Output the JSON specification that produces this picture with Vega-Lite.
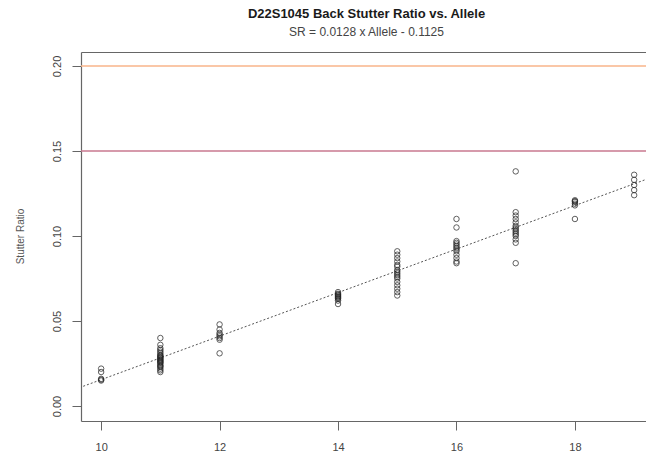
{
  "$schema": "https://vega.github.io/schema/vega-lite/v6.json",
  "width": 565,
  "height": 369,
  "autosize": {"type": "none"},
  "padding": {"left": 81, "top": 52, "right": 0, "bottom": 36},
  "background": "white",
  "title": {
    "text": "D22S1045 Back Stutter Ratio vs. Allele",
    "subtitle": "SR = 0.0128 x Allele - 0.1125",
    "anchor": "middle",
    "font": "Liberation Sans",
    "fontSize": 13,
    "fontWeight": "bold",
    "color": "#1a1a1a",
    "subtitleFont": "Liberation Sans",
    "subtitleFontSize": 12,
    "subtitleColor": "#444444",
    "subtitlePadding": 6,
    "offset": 14,
    "dx": 3
  },
  "config": {
    "view": {"stroke": null},
    "axis": {
      "grid": false,
      "domainColor": "#666666",
      "domainWidth": 1.2,
      "tickColor": "#666666",
      "labelFont": "Liberation Sans",
      "titleFont": "Liberation Sans",
      "labelColor": "#444444",
      "titleColor": "#555555"
    }
  },
  "datasets": {
    "pts": [
      {"allele": 10, "sr": 0.022}, {"allele": 10, "sr": 0.020}, {"allele": 10, "sr": 0.016}, {"allele": 10, "sr": 0.015}, {"allele": 10, "sr": 0.0155},
      {"allele": 11, "sr": 0.040}, {"allele": 11, "sr": 0.036}, {"allele": 11, "sr": 0.034}, {"allele": 11, "sr": 0.033}, {"allele": 11, "sr": 0.032},
      {"allele": 11, "sr": 0.031}, {"allele": 11, "sr": 0.030}, {"allele": 11, "sr": 0.0295}, {"allele": 11, "sr": 0.029}, {"allele": 11, "sr": 0.0285},
      {"allele": 11, "sr": 0.028}, {"allele": 11, "sr": 0.0275}, {"allele": 11, "sr": 0.027}, {"allele": 11, "sr": 0.0265}, {"allele": 11, "sr": 0.026},
      {"allele": 11, "sr": 0.0255}, {"allele": 11, "sr": 0.025}, {"allele": 11, "sr": 0.024}, {"allele": 11, "sr": 0.0235}, {"allele": 11, "sr": 0.023},
      {"allele": 11, "sr": 0.022}, {"allele": 11, "sr": 0.021}, {"allele": 11, "sr": 0.020},
      {"allele": 12, "sr": 0.048}, {"allele": 12, "sr": 0.045}, {"allele": 12, "sr": 0.043}, {"allele": 12, "sr": 0.042}, {"allele": 12, "sr": 0.041},
      {"allele": 12, "sr": 0.040}, {"allele": 12, "sr": 0.039}, {"allele": 12, "sr": 0.031},
      {"allele": 14, "sr": 0.067}, {"allele": 14, "sr": 0.066}, {"allele": 14, "sr": 0.0655}, {"allele": 14, "sr": 0.065}, {"allele": 14, "sr": 0.0645},
      {"allele": 14, "sr": 0.064}, {"allele": 14, "sr": 0.0635}, {"allele": 14, "sr": 0.063}, {"allele": 14, "sr": 0.062}, {"allele": 14, "sr": 0.060},
      {"allele": 15, "sr": 0.091}, {"allele": 15, "sr": 0.089}, {"allele": 15, "sr": 0.087}, {"allele": 15, "sr": 0.085}, {"allele": 15, "sr": 0.083},
      {"allele": 15, "sr": 0.082}, {"allele": 15, "sr": 0.080}, {"allele": 15, "sr": 0.079}, {"allele": 15, "sr": 0.078}, {"allele": 15, "sr": 0.077},
      {"allele": 15, "sr": 0.076}, {"allele": 15, "sr": 0.075}, {"allele": 15, "sr": 0.073}, {"allele": 15, "sr": 0.071}, {"allele": 15, "sr": 0.069},
      {"allele": 15, "sr": 0.067}, {"allele": 15, "sr": 0.065},
      {"allele": 16, "sr": 0.110}, {"allele": 16, "sr": 0.105}, {"allele": 16, "sr": 0.097}, {"allele": 16, "sr": 0.096}, {"allele": 16, "sr": 0.095},
      {"allele": 16, "sr": 0.094}, {"allele": 16, "sr": 0.093}, {"allele": 16, "sr": 0.092}, {"allele": 16, "sr": 0.091}, {"allele": 16, "sr": 0.089},
      {"allele": 16, "sr": 0.087}, {"allele": 16, "sr": 0.085}, {"allele": 16, "sr": 0.084},
      {"allele": 17, "sr": 0.138}, {"allele": 17, "sr": 0.114}, {"allele": 17, "sr": 0.112}, {"allele": 17, "sr": 0.110}, {"allele": 17, "sr": 0.108},
      {"allele": 17, "sr": 0.106}, {"allele": 17, "sr": 0.105}, {"allele": 17, "sr": 0.104}, {"allele": 17, "sr": 0.103}, {"allele": 17, "sr": 0.102},
      {"allele": 17, "sr": 0.101}, {"allele": 17, "sr": 0.100}, {"allele": 17, "sr": 0.098}, {"allele": 17, "sr": 0.096}, {"allele": 17, "sr": 0.084},
      {"allele": 18, "sr": 0.121}, {"allele": 18, "sr": 0.1205}, {"allele": 18, "sr": 0.120}, {"allele": 18, "sr": 0.119}, {"allele": 18, "sr": 0.118},
      {"allele": 18, "sr": 0.110},
      {"allele": 19, "sr": 0.136}, {"allele": 19, "sr": 0.133}, {"allele": 19, "sr": 0.130}, {"allele": 19, "sr": 0.127}, {"allele": 19, "sr": 0.124}
    ],
    "fit": [
      {"allele": 9, "sr": 0.0027},
      {"allele": 20, "sr": 0.1435}
    ],
    "thr": [
      {"level": "0.20", "sr": 0.20},
      {"level": "0.15", "sr": 0.15}
    ]
  },
  "layer": [
    {
      "data": {"name": "thr"},
      "mark": {"type": "rule", "strokeWidth": 1.5},
      "encoding": {
        "y": {"field": "sr", "type": "quantitative", "title": "Stutter Ratio",
              "scale": {"domain": [-0.0088, 0.2082], "nice": false, "zero": false}},
        "color": {"field": "level", "type": "nominal", "legend": null,
                  "scale": {"domain": ["0.20", "0.15"], "range": ["#f8b48a", "#c8788f"]}}
      }
    },
    {
      "data": {"name": "fit"},
      "mark": {"type": "line", "clip": true, "color": "#555555", "strokeWidth": 1, "strokeDash": [2, 2]},
      "encoding": {
        "x": {"field": "allele", "type": "quantitative",
              "scale": {"domain": [9.66, 19.2], "nice": false, "zero": false},
              "axis": {"orient": "top", "labels": false, "ticks": false, "title": null, "domain": true}},
        "y": {"field": "sr", "type": "quantitative", "title": "Stutter Ratio"}
      }
    },
    {
      "data": {"name": "pts"},
      "mark": {"type": "point", "shape": "circle", "filled": false, "size": 30, "stroke": "#222222", "strokeWidth": 0.9, "opacity": 0.8},
      "encoding": {
        "x": {"field": "allele", "type": "quantitative",
              "axis": {"orient": "bottom", "title": null, "values": [10, 12, 14, 16, 18], "format": "d",
                       "tickSize": 9, "labelPadding": 11, "labelFontSize": 11, "labelColor": "#444444"}},
        "y": {"field": "sr", "type": "quantitative", "title": "Stutter Ratio",
              "axis": {"orient": "left", "values": [0, 0.05, 0.1, 0.15, 0.2], "format": ".2f",
                       "tickSize": 9, "labelPadding": 10, "labelFontSize": 11,
                       "labelAngle": 270, "labelAlign": "center", "labelBaseline": "bottom",
                       "titleFontSize": 10, "titleFontWeight": "normal", "titleAngle": 270,
                       "titleX": -61, "titleY": 184, "titleAlign": "center", "titleBaseline": "middle"}}
      }
    }
  ],
  "resolve": {"axis": {"x": "independent"}}
}
